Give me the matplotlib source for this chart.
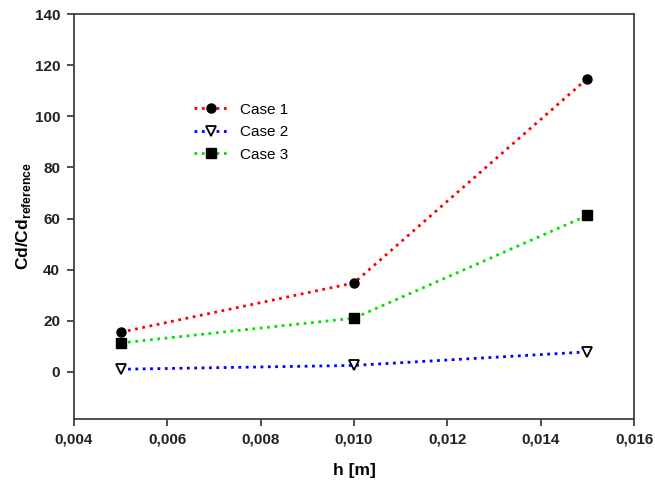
import numpy as np
import matplotlib
matplotlib.use("Agg")
import matplotlib.pyplot as plt
from matplotlib.ticker import FuncFormatter

plt.rcParams['font.family'] = ['Liberation Sans', 'DejaVu Sans']

# data
h = [0.005, 0.010, 0.015]
case1 = [15.5, 34.8, 114.8]
case2 = [1.0, 2.5, 7.8]
case3 = [11.3, 21.0, 61.2]
labels = ['Case 1', 'Case 2', 'Case 3']

fig = plt.figure(figsize=(6.55, 4.87), dpi=100)
ax = fig.add_axes([0.113, 0.140, 0.855, 0.831])

ax.plot(h, case1, color='red', linestyle=':', linewidth=2,
        marker='o', markersize=6.5, markerfacecolor='black', markeredgecolor='black', label=labels[0])
ax.plot(h, case2, color='blue', linestyle=':', linewidth=2,
        marker='v', markersize=7.5, markerfacecolor='white', markeredgecolor='black',
        markeredgewidth=1.3, label=labels[1])
ax.plot(h, case3, color='#00e000', linestyle=':', linewidth=2,
        marker='s', markersize=7, markerfacecolor='black', markeredgecolor='black', label=labels[2])

ax.set_xlim(0.004, 0.016)
ax.set_ylim(-18.4, 140)
ax.set_xticks(np.arange(0.004, 0.0161, 0.002))
ax.set_yticks(np.arange(0, 141, 20))
ax.xaxis.set_major_formatter(FuncFormatter(lambda v, p: f'{v:.3f}'.replace('.', ',')))

for s in ['left', 'bottom', 'top', 'right']:
    ax.spines[s].set_color('#404040')
    ax.spines[s].set_linewidth(1.3)
ax.tick_params(direction='out', length=5, width=1.3, color='#404040', labelsize=11,
               top=False, right=False, pad=5)
for t in ax.get_xticklabels() + ax.get_yticklabels():
    t.set_fontweight('bold')
    t.set_color('#222222')

ax.set_xlabel('h [m]', fontsize=12.5, fontweight='bold', labelpad=12)
ax.set_ylabel(r'Cd/Cd$_{\mathregular{reference}}$', fontsize=12.5, fontweight='bold', labelpad=1)

ax.legend(loc='upper left', bbox_to_anchor=(0.19, 0.815), frameon=False, fontsize=11,
          handlelength=2.2, labelspacing=0.55, handletextpad=0.8)

fig.savefig('out.png', dpi=100)
